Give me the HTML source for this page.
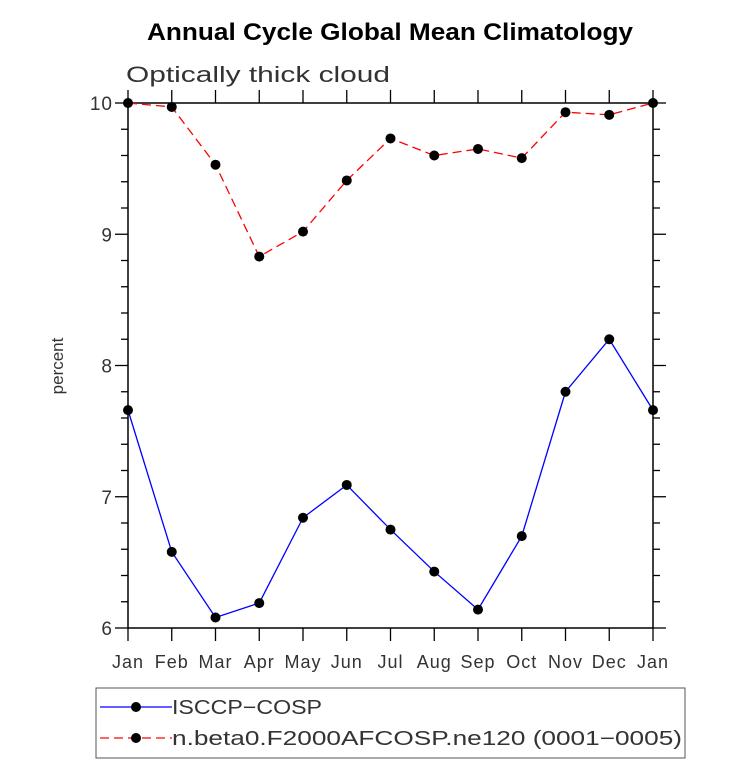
<!DOCTYPE html>
<html><head><meta charset="utf-8"><style>
body{margin:0;background:#fff;}
svg{display:block;font-family:"Liberation Sans",sans-serif;}
</style></head><body>
<svg id="c" width="733" height="780">
<text x="147" y="40" textLength="486" lengthAdjust="spacingAndGlyphs" font-size="24" font-weight="bold">Annual Cycle Global Mean Climatology</text>
<text x="126" y="82" textLength="264" lengthAdjust="spacingAndGlyphs" font-size="22" font-weight="300" fill="#333">Optically thick cloud</text>
<text transform="translate(63,366) rotate(-90)" text-anchor="middle" font-size="17" fill="#333">percent</text>
<g id="axes"></g>
<g id="series"></g>
<g>
<rect x="96" y="688" width="589" height="70" fill="none" stroke="#555"/>
<g>
<line x1="100" y1="707" x2="172" y2="707" stroke="#00f" stroke-width="1.3"/>
<circle cx="136" cy="707" r="5" fill="#000"/>
<text x="172" y="714" font-size="20" fill="#333" textLength="150" lengthAdjust="spacingAndGlyphs">ISCCP−COSP</text></g>
<g>
<line x1="100" y1="738" x2="172" y2="738" stroke="#f00" stroke-width="1.3" stroke-dasharray="9,5"/>
<circle cx="136" cy="738" r="5" fill="#000"/>
<text x="172" y="745" font-size="20" fill="#333" textLength="510" lengthAdjust="spacingAndGlyphs">n.beta0.F2000AFCOSP.ne120 (0001−0005)</text></g>
</g>
</svg>
<script>
const months=["Jan","Feb","Mar","Apr","May","Jun","Jul","Aug","Sep","Oct","Nov","Dec","Jan"];
const yTicks=[6,7,8,9,10];
const isccp=[7.66,6.58,6.08,6.19,6.84,7.09,6.75,6.43,6.14,6.70,7.80,8.20,7.66];
const model=[10.0,9.97,9.53,8.83,9.02,9.41,9.73,9.60,9.65,9.58,9.93,9.91,10.0];
const L=128,R=653,T=103,B=628,ymin=6,ymax=10;
const NS="http://www.w3.org/2000/svg";
const xs=i=>L+(R-L)*i/(months.length-1);
const ys=v=>B-(B-T)*(v-ymin)/(ymax-ymin);
function mk(tag,at,parent){const e=document.createElementNS(NS,tag);for(const k in at)e.setAttribute(k,at[k]);parent.appendChild(e);return e;}
const ax=document.getElementById('axes');
const fr=mk('rect',{x:L,y:T,width:R-L,height:B-T,fill:'none',stroke:'#000','stroke-width':1.5},ax);


months.forEach((m,i)=>{
 const x=xs(i);
 mk('line',{x1:x,y1:B,x2:x,y2:B+13,stroke:'#000','stroke-width':1.3},ax);
 mk('line',{x1:x,y1:T,x2:x,y2:T-13,stroke:'#000','stroke-width':1.3},ax);
 const t=mk('text',{x:x,y:668,'text-anchor':'middle','font-size':18,fill:'#333','letter-spacing':1},ax);
 t.textContent=m;
 
 
});
for(let v=ymin;v<=ymax+1e-9;v+=0.2){
 const y=ys(v);const major=Math.abs(v-Math.round(v))<1e-6;const len=major?13:7;
 mk('line',{x1:L,y1:y,x2:L-len,y2:y,stroke:'#000','stroke-width':1.3},ax);
 mk('line',{x1:R,y1:y,x2:R+len,y2:y,stroke:'#000','stroke-width':1.3},ax);
}
yTicks.forEach(v=>{
 const t=mk('text',{x:113,y:ys(v)+7,'text-anchor':'end','font-size':19,fill:'#333','letter-spacing':1},ax);
 t.textContent=v;
 
 
});
const sg=document.getElementById('series');
function draw(data,color,dash,name){
 const p=mk('polyline',{points:data.map((v,i)=>xs(i)+','+ys(v)).join(' '),fill:'none',stroke:color,'stroke-width':1.3,'stroke-dasharray':dash},sg);
 
 
 data.forEach((v,i)=>{
  const c=mk('circle',{cx:xs(i),cy:ys(v),r:5,fill:'#000'},sg);
  
  
 });
}
draw(isccp,'#00f','none','isccp');
draw(model,'#f00','9,5','model');
</script>
</body></html>
